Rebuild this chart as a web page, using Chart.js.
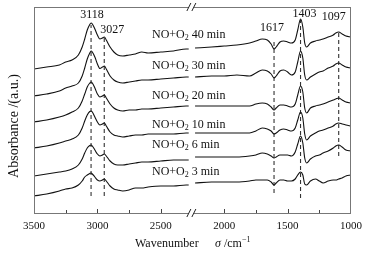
<!DOCTYPE html>
<html>
<head>
<meta charset="utf-8">
<script src="https://cdn.jsdelivr.net/npm/chart.js@4.4.1/dist/chart.umd.min.js"></script>
<style>
  body { margin: 0; background: #fff; }
  canvas { display: block; }
</style>
</head>
<body>
<canvas id="irChart" width="371" height="254"></canvas>
<script>
// wavenumber grid (cm-1), split where the axis is broken
const wnLeft = [3500, 3400, 3300, 3250, 3200, 3150, 3120, 3100, 3080, 3060, 3050, 3040, 3020, 3000, 2980,
  2960, 2945, 2930, 2900, 2870, 2840, 2800, 2750, 2700, 2650, 2600, 2500, 2400, 2300, 2280];
const wnRight = [2230, 2100, 2000, 1900, 1800, 1750, 1700, 1660, 1630, 1607, 1590, 1560, 1530, 1500, 1470,
  1440, 1420, 1398, 1380, 1365, 1350, 1320, 1280, 1250, 1220, 1180, 1140, 1120, 1097, 1070, 1040, 1000];
const breakAt = 2255;

// stacked absorbance traces (a.u., offsets included), left part then right part
const abs40 = [145, 147, 149, 152, 154, 159, 167, 175, 184, 189.5, 191, 190, 185, 179, 175, 176, 177, 174, 167, 162, 159, 158, 159, 160, 162, 161, 162, 163, 165, 165,
  166, 167, 168, 169, 171, 173, 175, 174, 170, 165, 167, 172, 173, 172, 171, 174, 184, 195, 187, 171, 167, 171, 173, 174, 175, 177, 179, 181, 182, 180, 178, 177];
const abs30 = [118, 120, 123, 126, 128, 131, 138, 146, 155, 161, 163, 162, 157, 150, 145.5, 147, 148, 145, 138, 134, 132, 131, 132, 133, 134, 134, 135, 136, 137, 137,
  137, 138, 138, 139, 138, 141, 144, 143, 140, 136, 138, 143, 144, 142, 139, 142, 152, 163, 156, 139, 134, 137, 140, 142, 143, 146, 148, 150, 151, 149, 147, 146];
const abs20 = [92, 94, 97, 99, 102, 106, 113, 120, 127, 131, 132, 131, 126, 120, 117, 118, 119, 116, 110, 106, 104, 103, 104, 104, 105, 105, 106, 107, 108, 108,
  108, 108, 108, 108, 108, 110, 111, 110, 107, 104, 106, 109, 109, 108, 107, 110, 119, 128, 122, 106, 101, 106, 108, 109, 110, 112, 114, 115, 116, 114, 112, 111];
const abs10 = [66, 68, 71, 73, 75, 79, 86, 93, 99, 102.5, 103, 102, 97, 92, 89, 90, 91, 88, 82, 79, 78, 77, 78, 79, 79, 80, 80, 80, 81, 81,
  81, 81, 81, 81, 81, 83, 86, 85, 83, 80, 81, 84, 85, 84, 83, 86, 94, 102, 96, 80, 74, 78, 81, 83, 84, 86, 88, 90, 91, 90, 89, 88];
const abs6 = [38, 40, 42, 43, 45, 49, 55, 61, 66, 68.5, 69, 68, 64, 60, 58, 59, 60, 58, 53, 50, 49, 49, 50, 51, 52, 52, 53, 54, 54, 54,
  57, 57, 57, 57, 58, 59, 61, 60, 58, 56, 57, 59, 59, 59, 58, 62, 70, 78, 71, 56, 51, 55, 58, 59, 61, 63, 66, 68, 69, 67, 64, 63];
const abs3 = [18, 20, 23, 25, 26, 29, 33, 37, 39, 40.5, 41, 40, 37, 34, 33, 34, 35, 33, 28, 25, 24, 23, 24, 26, 26, 27, 28, 28, 29, 29,
  31, 32, 32, 32, 33, 34, 34, 34, 32, 29, 31, 34, 34, 33, 33, 35, 39, 42, 39, 30, 29, 33, 35, 33, 31, 33, 34, 34, 35, 36, 38, 39];

const timeLabels = ['40 min', '30 min', '20 min', '10 min', '6 min', '3 min'];

// marked bands: where the dashed line sits on the axis, its printed label, and its vertical extent
const peakPos = [3050, 2946, 1607, 1398, 1097];
const peakNames = ['3118', '3027', '1617', '1403', '1097'];
const peakTop = [189, 176, 174, 194, 181];
const peakBottom = [18, 18, 21, 16, 58];

const xTickLabels = [3500, 3000, 2500, 2000, 1500, 1000];

const FONT = 'Liberation Serif';
const INK = '#111';

function toPoints(arr) {
  const pts = wnLeft.map((x, i) => ({ x: x, y: arr[i] }));
  pts.push({ x: breakAt, y: null });
  wnRight.forEach((x, i) => pts.push({ x: x, y: arr[wnLeft.length + i] }));
  return pts;
}

const traces = [abs40, abs30, abs20, abs10, abs6, abs3];
const datasets = traces.map((arr, i) => ({
  label: 'NO+O2 ' + timeLabels[i],
  data: toPoints(arr),
  borderColor: INK,
  borderWidth: 1.1,
  pointRadius: 0,
  cubicInterpolationMode: 'monotone',
  spanGaps: false
}));

peakPos.forEach((p, i) => {
  datasets.push({
    label: peakNames[i],
    data: [{ x: p, y: peakBottom[i] }, { x: p, y: peakTop[i] }],
    borderColor: '#333',
    borderWidth: 1.1,
    borderDash: [4, 3],
    pointRadius: 0
  });
});

// label placement tweaks (px) relative to dashed line top
const peakNudge = [[1, -10], [8, -8], [-2, -12], [4, -6], [-5, -16]];
const curveLabelY = [35, 66, 96, 125, 145, 172];

const decor = {
  id: 'decor',
  afterDraw(chart) {
    const ctx = chart.ctx;
    const a = chart.chartArea;
    const x = chart.scales.x;
    const y = chart.scales.y;
    ctx.save();

    // frame
    ctx.strokeStyle = '#777';
    ctx.lineWidth = 1;
    ctx.strokeRect(a.left + 0.5, a.top + 0.5, a.right - a.left - 1, a.bottom - a.top - 1);

    // inward ticks on the bottom axis
    ctx.strokeStyle = '#444';
    for (let v = 1250; v < 3500; v += 250) {
      if (Math.abs(v - breakAt) < 40) continue;
      const px = Math.round(x.getPixelForValue(v)) + 0.5;
      const len = v % 500 === 0 ? 4 : 3;
      ctx.beginPath();
      ctx.moveTo(px, a.bottom - 1);
      ctx.lineTo(px, a.bottom - 1 - len);
      ctx.stroke();
    }

    // axis break marks
    const bx = x.getPixelForValue(breakAt);
    [a.top, a.bottom - 1].forEach(by => {
      ctx.fillStyle = '#fff';
      ctx.fillRect(bx - 3, by - 1, 5, 3);
      ctx.strokeStyle = '#222';
      ctx.beginPath();
      ctx.moveTo(bx - 5, by + 4); ctx.lineTo(bx - 1, by - 4);
      ctx.moveTo(bx, by + 4); ctx.lineTo(bx + 4, by - 4);
      ctx.stroke();
    });

    ctx.fillStyle = INK;
    ctx.textBaseline = 'middle';

    // peak labels
    ctx.font = '12px "' + FONT + '"';
    ctx.textAlign = 'center';
    peakPos.forEach((p, i) => {
      const px = x.getPixelForValue(p) + peakNudge[i][0];
      const py = y.getPixelForValue(peakTop[i]) + peakNudge[i][1];
      ctx.fillText(peakNames[i], px, py);
    });

    // curve labels  NO+O2 xx min
    ctx.textAlign = 'left';
    timeLabels.forEach((t, i) => {
      let cx = 152;
      const cy = curveLabelY[i];
      ctx.font = '12px "' + FONT + '"';
      ctx.fillText('NO+O', cx, cy);
      cx += ctx.measureText('NO+O').width;
      ctx.font = '8px "' + FONT + '"';
      ctx.fillText('2', cx, cy + 3);
      cx += ctx.measureText('2').width;
      ctx.font = '12px "' + FONT + '"';
      ctx.fillText(' ' + t, cx, cy);
    });

    // x title
    let tx = 135;
    const ty = 244;
    ctx.font = '12px "' + FONT + '"';
    ctx.fillText('Wavenumber', tx, ty);
    tx = 215;
    ctx.font = 'italic 12px "' + FONT + '"';
    ctx.fillText('\u03c3', tx, ty);
    tx += ctx.measureText('\u03c3').width;
    ctx.font = '12px "' + FONT + '"';
    ctx.fillText(' /cm', tx, ty);
    tx += ctx.measureText(' /cm').width;
    ctx.font = '8px "' + FONT + '"';
    ctx.fillText('\u22121', tx, ty - 4);

    // y title
    ctx.translate(14, 126);
    ctx.rotate(-Math.PI / 2);
    ctx.textAlign = 'center';
    ctx.font = '14px "' + FONT + '"';
    ctx.fillText('Absorbance /(a.u.)', 0, 0);

    ctx.restore();
  }
};

new Chart(document.getElementById('irChart'), {
  type: 'line',
  data: { datasets: datasets },
  options: {
    responsive: false,
    animation: false,
    devicePixelRatio: 1,
    layout: { padding: { left: 34, top: 7, right: 20, bottom: 0 } },
    plugins: { legend: { display: false }, tooltip: { enabled: false } },
    scales: {
      x: {
        type: 'linear',
        reverse: true,
        min: 1000,
        max: 3500,
        grid: { display: false, drawTicks: false },
        border: { display: false },
        ticks: {
          stepSize: 250,
          autoSkip: false,
          maxRotation: 0,
          padding: 6,
          color: INK,
          font: { family: FONT, size: 11 },
          callback: v => xTickLabels.includes(v) ? String(v) : ''
        },
        afterFit: s => { s.height = 40; }
      },
      y: { display: false, min: 0, max: 207 }
    }
  },
  plugins: [decor]
});
</script>
</body>
</html>
